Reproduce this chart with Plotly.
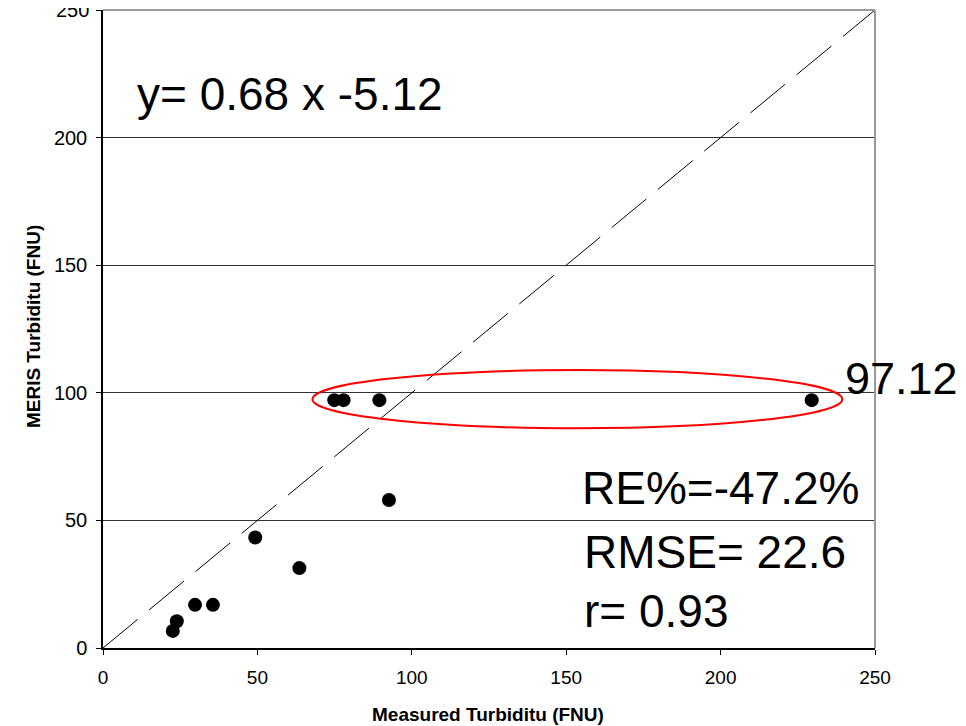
import plotly.graph_objects as go

# Data
measured = [22.6, 23.9, 29.8, 35.6, 49.3, 63.6, 74.9, 77.9, 89.5, 92.6, 229.5]
meris = [6.7, 10.5, 16.9, 16.9, 43.3, 31.3, 97.12, 97.12, 97.12, 58.0, 97.12]
one_to_one = [0, 250]
tick_vals = [0, 50, 100, 150, 200, 250]
tick_text = ["0", "50", "100", "150", "200", "250"]

FONT = "Arial, Liberation Sans, sans-serif"

fig = go.Figure()
fig.add_trace(go.Scatter(
    x=one_to_one, y=one_to_one, mode="lines",
    line=dict(color="black", width=1, dash="45px,15px"),
    hoverinfo="skip", showlegend=False))
fig.add_trace(go.Scatter(
    x=measured, y=meris, mode="markers",
    marker=dict(color="black", size=14),
    showlegend=False, cliponaxis=False))

# page body has an 8px margin, so the figure is sized/offset to compensate
fig.update_layout(
    width=958, height=718,
    margin=dict(l=94.5, r=90.5, t=2, b=78.3, autoexpand=False),
    plot_bgcolor="white", paper_bgcolor="white",
    font=dict(family=FONT, color="black"),
    showlegend=False,
)
fig.update_xaxes(
    range=[0, 250], tickvals=tick_vals, ticktext=tick_text, automargin=False,
    showgrid=False, zeroline=False, showline=True, linecolor="black", linewidth=1.5,
    ticks="outside", ticklen=5, tickcolor="black", tickfont=dict(size=19, family=FONT),
    ticklabelstandoff=6,
)
fig.update_yaxes(
    range=[0, 250], tickvals=tick_vals, ticktext=tick_text, automargin=False,
    showgrid=True, gridcolor="#333333", gridwidth=1, zeroline=False,
    showline=True, linecolor="black", linewidth=1.5,
    ticks="outside", ticklen=5, tickcolor="black", tickfont=dict(size=20, family=FONT),
    ticklabelstandoff=5,
)

# plot-area border (top and right, gray)
fig.add_shape(type="line", xref="paper", yref="paper", x0=0, x1=1, y0=1, y1=1,
              line=dict(color="#999999", width=2))
fig.add_shape(type="line", xref="paper", yref="paper", x0=1, x1=1, y0=0, y1=1,
              line=dict(color="#999999", width=2))

# red ellipse
fig.add_shape(type="circle", xref="x", yref="y", x0=67.85, x1=239.4, y0=86.1, y1=108.9,
              line=dict(color="red", width=2))

ann = [
    dict(text="y= 0.68 x -5.12", x=10.3, y=216.9, size=46),
    dict(text="RE%=-47.2%", x=154.4, y=62.7, size=46),
    dict(text="RMSE= 22.6", x=155.0, y=37.6, size=46),
    dict(text="r= 0.93", x=155.0, y=14.4, size=46),
    dict(text="97.12", x=239.6, y=105.5, size=45),
]
for a in ann:
    fig.add_annotation(text=a["text"], x=a["x"], y=a["y"], xref="x", yref="y",
                       xanchor="left", yanchor="middle", showarrow=False,
                       font=dict(size=a["size"], family=FONT, color="black"))

# top tick label (partly cut off at the top edge in the reference)
fig.add_annotation(text=tick_text[-1], xref="paper", yref="y", x=0, y=tick_vals[-1],
                   xshift=-12, xanchor="right", yanchor="middle", showarrow=False,
                   font=dict(size=20, family=FONT, color="black"))

fig.add_annotation(text="<b>Measured Turbiditu (FNU)</b>", xref="paper", yref="paper",
                   x=0.4987, y=0, yshift=-66, xanchor="center", yanchor="middle",
                   showarrow=False, font=dict(size=19, family=FONT))
fig.add_annotation(text="<b>MERIS Turbiditu (FNU)</b>", xref="paper", yref="paper",
                   x=0, xshift=-70, y=0.503, xanchor="center", yanchor="middle",
                   textangle=-90, showarrow=False, font=dict(size=19, family=FONT))

fig.write_html("out.html")
